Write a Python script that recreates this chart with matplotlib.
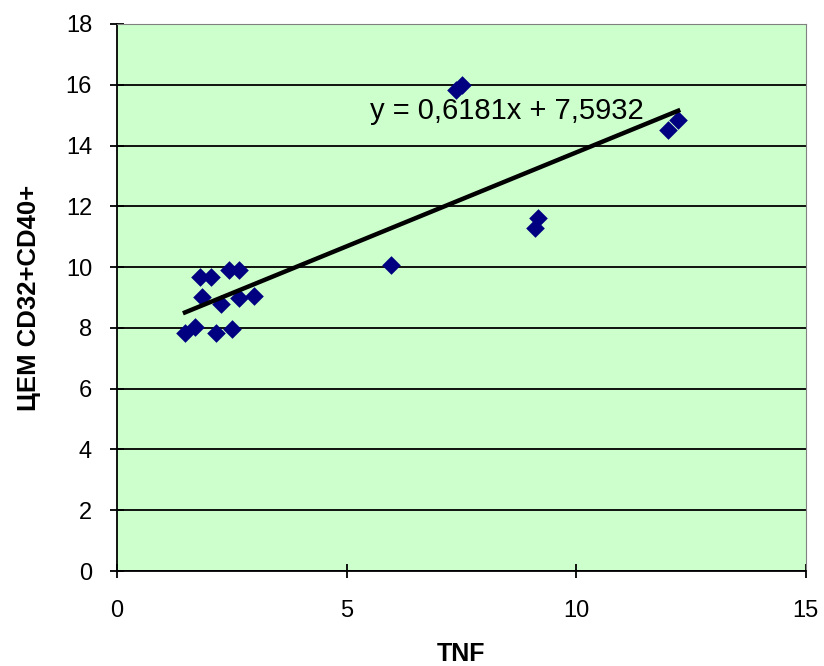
import numpy as np
import matplotlib
matplotlib.use("Agg")
import matplotlib.pyplot as plt

plt.rcParams['font.family'] = ['Liberation Sans', 'DejaVu Sans']

# data
tnf = [1.48, 1.70, 1.80, 1.85, 2.04, 2.15, 2.26, 2.43, 2.50, 2.65, 2.65, 2.98,
       5.96, 7.39, 7.52, 9.11, 9.17, 12.00, 12.22]
cem = [7.83, 8.03, 9.67, 9.01, 9.67, 7.83, 8.78, 9.90, 7.96, 9.90, 8.98, 9.05,
       10.07, 15.82, 15.99, 11.28, 11.61, 14.51, 14.84]

slope = 0.6181
intercept = 7.5932
eq_text = "y = 0,6181x + 7,5932"

fig = plt.figure(figsize=(8.24, 6.66), dpi=100)
ax = fig.add_axes([0.142, 0.1426, 0.836, 0.8214])
ax.set_facecolor('#CCFFCC')

ax.set_xlim(0, 15)
ax.set_ylim(0, 18)
ax.set_xticks([0, 5, 10, 15])
ax.set_yticks(np.arange(0, 19, 2))
ax.yaxis.grid(True, color='black', linewidth=1.3)
ax.set_axisbelow(True)

ax.scatter(tnf, cem, marker='D', s=90, color='#000080', zorder=3, linewidths=0)

xs = np.array([min(tnf), max(tnf)])
ax.plot(xs, slope * xs + intercept, color='black', linewidth=3.2, zorder=4)

ax.text(5.5, 15.13, eq_text, fontsize=21, va='center', ha='left', zorder=5)

for s in ['top', 'right']:
    ax.spines[s].set_color('#808080')
for s in ['left', 'bottom']:
    ax.spines[s].set_color('black')
    ax.spines[s].set_linewidth(1.3)

ax.tick_params(direction='inout', length=10, width=1.3, labelsize=17)
ax.tick_params(axis='y', pad=13)
ax.tick_params(axis='x', pad=16)

ax.set_xlabel('TNF', fontsize=18, fontweight='bold', labelpad=14)
ax.set_ylabel('ЦЕМ CD32+CD40+', fontsize=18.5, fontweight='bold', labelpad=18)

fig.savefig('out.png', dpi=100)
